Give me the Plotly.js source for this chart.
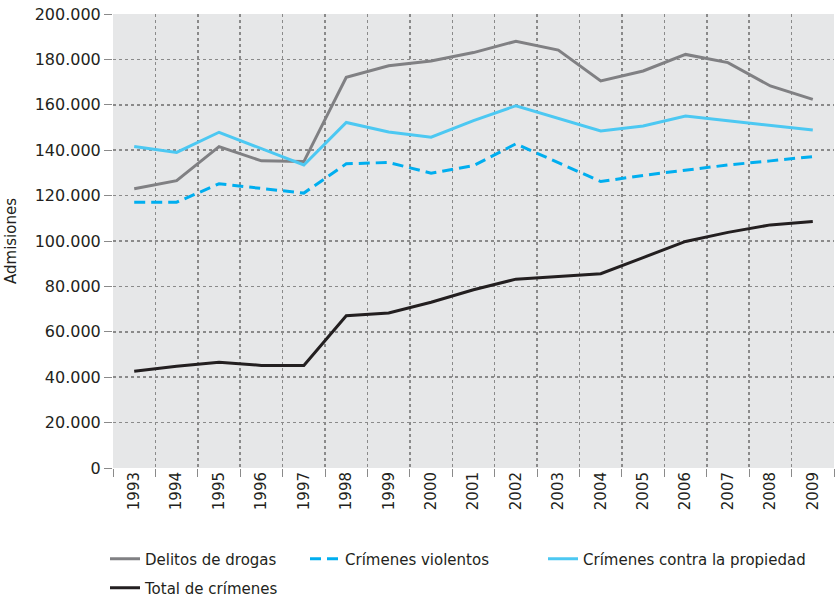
<!DOCTYPE html>
<html>
<head>
<meta charset="utf-8">
<script src="https://cdn.plot.ly/plotly-3.0.1.min.js"></script>
<style>html,body{margin:0;padding:0;background:#fff;}#chart{width:837px;height:598px;}</style>
</head>
<body>
<div id="chart"></div>
<script>
const years = ['1993','1994','1995','1996','1997','1998','1999','2000','2001','2002','2003','2004','2005','2006','2007','2008','2009'];
const delitosDrogas = [123000,126600,141600,135300,135000,172100,177200,179300,183000,188000,184100,170500,174900,182200,178600,168300,162400];
const crimenesViolentos = [117100,117100,125200,123100,121100,134000,134600,129900,133200,142800,134500,126200,128900,131300,133500,135300,137200];
const crimenesPropiedad = [141600,139000,147900,140600,133500,152200,148000,145700,153000,159600,154000,148500,150700,155100,153000,151000,148900];
const totalCrimenes = [42600,44800,46600,45200,45200,67100,68300,73000,78500,83200,84400,85600,92700,99800,103800,107100,108600];
const yTicks = [0,20000,40000,60000,80000,100000,120000,140000,160000,180000,200000];

const FONT = 'DejaVu Sans, Liberation Sans, Arial, sans-serif';
const TXT = '#231f20';

const traces = [
  {x: years, y: delitosDrogas, name: 'Delitos de drogas', type: 'scatter', mode: 'lines',
   line: {color: '#808083', width: 3}, legend: 'legend'},
  {x: years, y: crimenesViolentos, name: 'Crímenes violentos', type: 'scatter', mode: 'lines',
   line: {color: '#00aeef', width: 3, dash: '11px,6px'}, legend: 'legend2'},
  {x: years, y: crimenesPropiedad, name: 'Crímenes contra la propiedad', type: 'scatter', mode: 'lines',
   line: {color: '#4cc8f2', width: 3}, legend: 'legend3'},
  {x: years, y: totalCrimenes, name: 'Total de crímenes', type: 'scatter', mode: 'lines',
   line: {color: '#231f20', width: 3}, legend: 'legend4'}
];

function leg(xpx, ypx) {
  return {
    orientation: 'h', x: (xpx - 113) / 721, xanchor: 'left',
    y: -(ypx - 468) / 454, yanchor: 'middle',
    font: {family: FONT, size: 15, color: TXT}, bgcolor: 'rgba(0,0,0,0)'
  };
}

const layout = {
  width: 837, height: 598,
  margin: {l: 113, r: 3, t: 14, b: 130, autoexpand: false},
  paper_bgcolor: '#ffffff',
  plot_bgcolor: '#e6e7e8',
  separators: ',.',
  font: {family: FONT, color: TXT, size: 14},
  showlegend: true,
  xaxis: {
    type: 'category',
    range: [-0.5, 16.5],
    autorange: false,
    tickson: 'boundaries',
    tickangle: -90,
    automargin: false,
    ticks: 'outside', ticklen: 8, tickcolor: '#8a8a8a', tickwidth: 1,
    showgrid: true, gridcolor: '#8a8a8a', gridwidth: 1.5, griddash: 'dot',
    zeroline: false, showline: false,
    tickfont: {family: FONT, size: 15, color: TXT},
    fixedrange: true
  },
  yaxis: {
    range: [0, 200000],
    autorange: false,
    automargin: false,
    tickvals: yTicks,
    tickformat: ',d',
    ticks: 'outside', ticklen: 8, tickcolor: '#8a8a8a', tickwidth: 1,
    showgrid: true, gridcolor: '#8a8a8a', gridwidth: 1.5, griddash: 'dot',
    zeroline: false, showline: false,
    tickfont: {family: FONT, size: 16, color: TXT},
    title: {text: 'Admisiones', font: {family: FONT, size: 15, color: TXT}, standoff: 14},
    fixedrange: true
  },
  legend: leg(105, 559),
  legend2: leg(305, 559),
  legend3: leg(543, 559),
  legend4: leg(105, 588)
};

Plotly.newPlot('chart', traces, layout, {displayModeBar: false, staticPlot: true});
</script>
</body>
</html>
